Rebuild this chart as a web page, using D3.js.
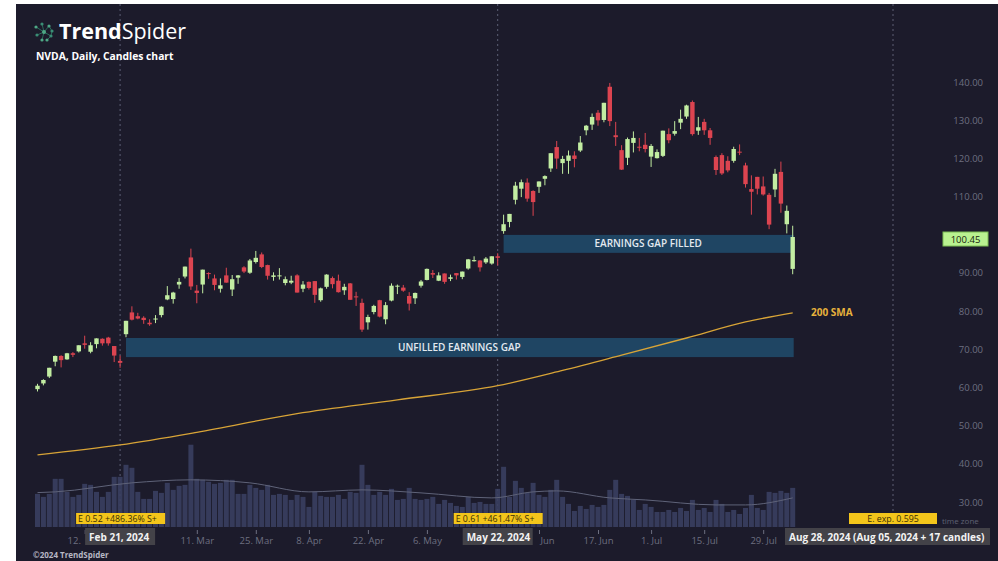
<!DOCTYPE html>
<html lang="en">
<head>
<meta charset="utf-8">
<title>NVDA, Daily, Candles chart</title>
<script src="https://d3js.org/d3.v7.min.js"></script>
<style>
  body { margin: 0; background: #ffffff; }
  text { font-family: "Open Sans", "Noto Sans", sans-serif; }
</style>
</head>
<body>
<script>
// daily candles: date, open, high, low, close (split adjusted)
var candles = [
  ["2024-01-31", 60.6, 62.0, 60.0, 61.5],
  ["2024-02-01", 62.1, 63.2, 61.6, 63.0],
  ["2024-02-02", 63.9, 66.2, 63.5, 66.2],
  ["2024-02-05", 67.8, 69.4, 66.6, 69.3],
  ["2024-02-06", 69.3, 69.5, 66.3, 68.2],
  ["2024-02-07", 68.4, 70.1, 68.3, 70.0],
  ["2024-02-08", 70.0, 70.3, 69.0, 69.6],
  ["2024-02-09", 70.5, 72.1, 70.2, 72.1],
  ["2024-02-12", 72.6, 74.6, 71.2, 72.2],
  ["2024-02-13", 70.4, 72.9, 70.0, 72.1],
  ["2024-02-14", 72.4, 73.9, 71.3, 73.9],
  ["2024-02-15", 73.8, 73.9, 72.0, 72.6],
  ["2024-02-16", 74.1, 74.3, 72.0, 72.6],
  ["2024-02-20", 71.9, 71.9, 67.7, 69.4],
  ["2024-02-21", 68.0, 69.4, 66.2, 67.5],
  ["2024-02-22", 75.0, 78.5, 74.2, 78.5],
  ["2024-02-23", 80.7, 82.3, 78.6, 78.8],
  ["2024-02-26", 79.7, 80.6, 78.9, 79.1],
  ["2024-02-27", 79.3, 79.7, 77.7, 78.7],
  ["2024-02-28", 78.0, 78.9, 77.2, 77.6],
  ["2024-02-29", 79.0, 80.0, 77.9, 79.1],
  ["2024-03-01", 80.0, 82.3, 79.4, 82.2],
  ["2024-03-04", 84.1, 87.6, 83.9, 85.2],
  ["2024-03-05", 84.2, 86.1, 83.0, 85.9],
  ["2024-03-06", 88.0, 89.7, 86.9, 88.7],
  ["2024-03-07", 90.1, 92.7, 89.6, 92.7],
  ["2024-03-08", 95.1, 97.4, 86.6, 87.5],
  ["2024-03-11", 86.4, 87.9, 83.1, 85.8],
  ["2024-03-12", 88.0, 91.9, 85.7, 91.9],
  ["2024-03-13", 91.0, 91.2, 89.5, 90.9],
  ["2024-03-14", 89.6, 90.6, 86.5, 87.9],
  ["2024-03-15", 86.9, 89.6, 85.9, 87.8],
  ["2024-03-18", 90.4, 92.4, 88.5, 88.5],
  ["2024-03-19", 86.7, 90.5, 85.0, 89.4],
  ["2024-03-20", 89.8, 90.5, 88.2, 90.4],
  ["2024-03-21", 92.5, 92.8, 91.0, 91.4],
  ["2024-03-22", 91.1, 94.7, 90.8, 94.3],
  ["2024-03-25", 93.9, 96.8, 93.5, 95.0],
  ["2024-03-26", 95.9, 96.4, 92.3, 92.6],
  ["2024-03-27", 93.1, 93.2, 89.3, 90.3],
  ["2024-03-28", 90.0, 91.2, 89.0, 90.4],
  ["2024-04-01", 90.3, 92.3, 89.3, 90.4],
  ["2024-04-02", 88.4, 90.1, 87.8, 89.4],
  ["2024-04-03", 88.5, 90.3, 88.1, 89.0],
  ["2024-04-04", 90.4, 90.7, 85.9, 85.9],
  ["2024-04-05", 86.9, 88.9, 86.0, 88.0],
  ["2024-04-08", 88.7, 88.8, 86.7, 87.1],
  ["2024-04-09", 88.9, 88.9, 83.2, 85.3],
  ["2024-04-10", 83.9, 87.2, 83.5, 87.0],
  ["2024-04-11", 87.4, 90.7, 86.9, 90.6],
  ["2024-04-12", 89.7, 90.1, 87.0, 88.1],
  ["2024-04-15", 89.0, 90.6, 85.9, 86.0],
  ["2024-04-16", 86.5, 88.2, 85.3, 87.4],
  ["2024-04-17", 88.3, 88.4, 84.0, 84.0],
  ["2024-04-18", 84.9, 86.1, 82.4, 84.7],
  ["2024-04-19", 83.2, 84.3, 75.6, 76.2],
  ["2024-04-22", 78.1, 80.1, 76.2, 79.5],
  ["2024-04-23", 80.8, 82.7, 80.2, 82.4],
  ["2024-04-24", 83.9, 84.0, 79.4, 79.6],
  ["2024-04-25", 78.9, 83.4, 77.6, 82.6],
  ["2024-04-26", 83.8, 88.3, 83.6, 87.7],
  ["2024-04-29", 87.5, 88.0, 85.5, 87.7],
  ["2024-04-30", 87.2, 87.9, 86.1, 86.4],
  ["2024-05-01", 85.0, 86.0, 81.2, 83.0],
  ["2024-05-02", 84.4, 85.9, 82.9, 85.8],
  ["2024-05-03", 87.7, 89.2, 87.2, 88.8],
  ["2024-05-06", 89.2, 92.2, 89.1, 92.1],
  ["2024-05-07", 91.0, 91.8, 89.7, 90.6],
  ["2024-05-08", 89.0, 91.2, 88.9, 90.4],
  ["2024-05-09", 90.9, 90.9, 88.2, 88.7],
  ["2024-05-10", 89.5, 90.6, 88.9, 89.9],
  ["2024-05-13", 91.0, 91.0, 89.3, 90.4],
  ["2024-05-14", 90.0, 91.4, 89.4, 91.4],
  ["2024-05-15", 92.2, 94.7, 91.9, 94.6],
  ["2024-05-16", 94.1, 95.4, 94.0, 94.4],
  ["2024-05-17", 94.3, 94.4, 91.4, 92.5],
  ["2024-05-20", 93.8, 95.2, 93.4, 94.8],
  ["2024-05-21", 93.5, 95.4, 93.2, 95.4],
  ["2024-05-22", 95.4, 96.2, 93.0, 95.0],
  ["2024-05-23", 102.0, 106.3, 101.3, 103.8],
  ["2024-05-24", 104.4, 106.5, 103.0, 106.5],
  ["2024-05-28", 110.2, 114.9, 109.0, 113.9],
  ["2024-05-29", 113.1, 115.5, 110.9, 114.8],
  ["2024-05-30", 114.7, 115.8, 109.7, 110.5],
  ["2024-05-31", 112.5, 112.7, 106.0, 109.6],
  ["2024-06-03", 113.6, 115.0, 112.0, 115.0],
  ["2024-06-04", 115.7, 116.6, 114.0, 116.4],
  ["2024-06-05", 118.4, 122.4, 117.5, 122.4],
  ["2024-06-06", 124.0, 125.6, 118.3, 121.0],
  ["2024-06-07", 119.8, 121.7, 117.0, 120.9],
  ["2024-06-10", 120.4, 123.1, 117.0, 121.8],
  ["2024-06-11", 121.8, 122.9, 118.7, 120.9],
  ["2024-06-12", 123.1, 126.9, 122.7, 125.2],
  ["2024-06-13", 128.4, 129.8, 127.1, 129.6],
  ["2024-06-14", 129.9, 132.8, 128.5, 131.9],
  ["2024-06-17", 133.0, 133.7, 129.6, 131.0],
  ["2024-06-18", 131.1, 135.6, 130.5, 135.6],
  ["2024-06-20", 139.8, 140.8, 129.5, 130.8],
  ["2024-06-21", 127.1, 130.6, 124.3, 126.6],
  ["2024-06-24", 123.2, 124.5, 118.0, 118.1],
  ["2024-06-25", 121.2, 126.5, 119.3, 126.1],
  ["2024-06-26", 125.1, 128.1, 122.6, 126.4],
  ["2024-06-27", 124.1, 126.4, 122.9, 124.0],
  ["2024-06-28", 124.6, 127.7, 122.6, 123.5],
  ["2024-07-01", 121.5, 124.8, 118.8, 124.3],
  ["2024-07-02", 121.1, 123.4, 121.0, 122.7],
  ["2024-07-03", 121.7, 128.3, 121.4, 128.3],
  ["2024-07-05", 127.4, 128.9, 125.0, 125.8],
  ["2024-07-08", 127.5, 130.8, 127.0, 128.2],
  ["2024-07-09", 130.4, 133.8, 128.7, 131.4],
  ["2024-07-10", 132.0, 135.1, 131.4, 134.9],
  ["2024-07-11", 135.8, 136.2, 127.0, 127.4],
  ["2024-07-12", 128.3, 131.9, 127.2, 129.2],
  ["2024-07-15", 130.6, 131.4, 127.2, 128.4],
  ["2024-07-16", 128.4, 129.0, 124.6, 126.4],
  ["2024-07-17", 121.4, 121.8, 116.7, 118.0],
  ["2024-07-18", 121.9, 122.4, 116.7, 117.1],
  ["2024-07-19", 120.4, 121.6, 117.4, 117.9],
  ["2024-07-22", 120.4, 124.1, 119.9, 123.5],
  ["2024-07-23", 122.8, 124.7, 121.9, 122.6],
  ["2024-07-24", 119.2, 119.9, 113.4, 114.3],
  ["2024-07-25", 113.0, 116.6, 106.3, 112.3],
  ["2024-07-26", 116.2, 116.2, 111.6, 113.1],
  ["2024-07-29", 113.7, 116.3, 111.3, 111.6],
  ["2024-07-30", 111.5, 112.0, 102.5, 103.7],
  ["2024-07-31", 112.9, 118.3, 110.9, 117.0],
  ["2024-08-01", 117.5, 120.2, 106.8, 109.2],
  ["2024-08-02", 103.8, 108.7, 101.4, 107.3],
  ["2024-08-05", 92.1, 103.4, 90.7, 100.45]
];

// daily volume, millions of shares (same order as candles)
var volumes = [
  462, 420, 462, 672, 672, 490, 420, 448, 602, 588, 490, 420, 490, 700, 700,
  868, 826, 490, 392, 392, 504, 476, 616, 518, 574, 588, 1148, 672, 658, 630,
  602, 616, 658, 658, 462, 462, 588, 546, 518, 588, 448, 462, 448, 378, 448,
  420, 280, 490, 434, 420, 420, 448, 392, 490, 476, 868, 588, 448, 490, 448,
  532, 378, 392, 546, 392, 378, 392, 420, 322, 378, 336, 294, 280, 420, 336,
  350, 322, 322, 532,
  840, 420, 644, 546, 476, 616, 448, 420, 518, 658, 420, 322, 224, 294, 252,
  308, 280, 308, 518, 658, 462, 434, 378, 238, 322, 280, 210, 210, 238, 210,
  266, 224, 378, 238, 266, 210, 378, 322, 210, 238, 182, 266, 448, 266, 238,
  490, 476, 504, 476, 546
];

// 200 day SMA, read at some candles: [candle index, value]
var sma200 = [
  [0, 43.4], [14, 46.0], [27, 49.3], [44, 54.2], [61, 57.8], [78, 61.5],
  [89, 65.5], [99, 69.5], [110, 74.0], [120, 78.2], [128, 80.6]
];

// volume moving average, read at some candles: [candle index, millions]
var volMa = [
  [0, 480], [3, 490], [16, 616], [26, 658], [36, 616], [46, 490], [55, 518],
  [65, 476], [77, 406], [84, 490], [88, 504], [97, 406], [103, 378],
  [115, 308], [120, 308], [128, 406]
];

var priceTicks = [30, 40, 50, 60, 70, 80, 90, 110, 120, 130, 140];
var lastPrice = 100.45;

// date ticks: date, label, label shift (labels partly hidden by the tooltips)
var dateTicks = [
  ["2024-02-12", "12.", -11], ["2024-03-11", "11. Mar", 0],
  ["2024-03-25", "25. Mar", 0], ["2024-04-08", "8. Apr", 0],
  ["2024-04-22", "22. Apr", 0], ["2024-05-06", "6. May", 0],
  ["2024-06-03", "Jun", 8], ["2024-06-17", "17. Jun", 0],
  ["2024-07-01", "1. Jul", 0], ["2024-07-15", "15. Jul", 0],
  ["2024-07-29", "29. Jul", 0]
];

// earnings gaps: from date, to date, low, high, label
var gaps = [
  ["2024-02-22", "2024-08-05", 69.0, 74.0, "UNFILLED EARNINGS GAP"],
  ["2024-05-23", "2024-08-05", 96.3, 101.0, "EARNINGS GAP FILLED"]
];

var earnings = [
  ["2024-02-21", "E 0.52 +486.36% S+", "Feb 21, 2024"],
  ["2024-05-22", "E 0.61 +461.47% S+", "May 22, 2024"]
];
var futureCandles = 17;
var nextEarningsText = "E. exp. 0.595";
var nextEarningsTip = "Aug 28, 2024 (Aug 05, 2024 + 17 candles)";

// ---------------------------------------------------------------
var W = 998, H = 561;
var bg = "#1c1b2b";
var green = "#c2eda2", red = "#dc4450";

var idx = {};
candles.forEach(function(d, i){ idx[d[0]] = i; });

var x = d3.scaleLinear()
    .domain([0, candles.length - 1 + futureCandles])
    .range([37.5, 893]);

var y = d3.scaleLinear().domain([30, 140]).range([506, 86]);
var yv = d3.scaleLinear().domain([0, 1200]).range([527, 441]);

var svg = d3.select("body").append("svg")
    .attr("width", W)
    .attr("height", H);

var defs = svg.append("defs");
defs.append("clipPath").attr("id", "tipclip")
  .append("rect").attr("x", 785).attr("y", 528).attr("width", 205).attr("height", 17);

svg.append("rect")
    .attr("x", 16).attr("y", 4)
    .attr("width", W - 16).attr("height", H - 4)
    .attr("fill", bg);

// dotted earnings lines
var lineIdx = earnings.map(function(e){ return idx[e[0]]; });
lineIdx.push(candles.length - 1 + futureCandles);
svg.selectAll("line.earn")
    .data(lineIdx)
    .enter().append("line")
    .attr("class", "earn")
    .attr("x1", function(d){ return x(d); })
    .attr("x2", function(d){ return x(d); })
    .attr("y1", 4)
    .attr("y2", function(d, i){ return i == 2 ? 512 : 530; })
    .attr("stroke", "#5c5f74")
    .attr("stroke-width", 1)
    .attr("stroke-dasharray", "2,3");

// gap boxes
svg.selectAll("rect.gap")
    .data(gaps)
    .enter().append("rect")
    .attr("class", "gap")
    .attr("x", function(d){ return x(idx[d[0]]); })
    .attr("y", function(d){ return y(d[3]); })
    .attr("width", function(d){ return x(idx[d[1]]) - x(idx[d[0]]) + 1; })
    .attr("height", function(d){ return y(d[2]) - y(d[3]); })
    .attr("fill", "#1f4563");

// 200 SMA
var smaLine = d3.line()
    .x(function(d){ return x(d[0]); })
    .y(function(d){ return y(d[1]); })
    .curve(d3.curveMonotoneX);
svg.append("path")
    .datum(sma200)
    .attr("d", smaLine)
    .attr("fill", "none")
    .attr("stroke", "#d8a437")
    .attr("stroke-width", 1.3);

svg.append("text")
    .attr("x", 811).attr("y", y(sma200[sma200.length - 1][1]) + 3)
    .attr("fill", "#e6b23c")
    .attr("font-size", "10px")
    .attr("font-weight", "bold")
    .text("200 SMA");

// volume
svg.selectAll("rect.vol")
    .data(volumes)
    .enter().append("rect")
    .attr("class", "vol")
    .attr("x", function(d, i){ return x(i) - 2.5; })
    .attr("y", function(d){ return yv(d); })
    .attr("width", 5)
    .attr("height", function(d){ return yv(0) - yv(d); })
    .attr("fill", "#3a3f60")
    .attr("fill-opacity", 0.9);

var volLine = d3.line()
    .x(function(d){ return x(d[0]); })
    .y(function(d){ return yv(d[1]); })
    .curve(d3.curveMonotoneX);
svg.append("path")
    .datum(volMa)
    .attr("d", volLine)
    .attr("fill", "none")
    .attr("stroke", "#5f6379")
    .attr("stroke-width", 1);

// candles
var c = svg.selectAll("g.candle")
    .data(candles)
    .enter().append("g")
    .attr("class", "candle");

c.append("line")
    .attr("x1", function(d, i){ return x(i); })
    .attr("x2", function(d, i){ return x(i); })
    .attr("y1", function(d){ return y(d[2]); })
    .attr("y2", function(d){ return y(d[3]); })
    .attr("stroke", function(d){ return d[4] >= d[1] ? green : red; })
    .attr("stroke-width", 1);

c.append("rect")
    .attr("x", function(d, i){ return x(i) - 2.2; })
    .attr("y", function(d){ return y(Math.max(d[1], d[4])); })
    .attr("width", 4.4)
    .attr("height", function(d){ return Math.max(1, Math.abs(y(d[1]) - y(d[4]))); })
    .attr("fill", function(d){ return d[4] >= d[1] ? green : red; });

// gap labels
svg.selectAll("text.gap")
    .data(gaps)
    .enter().append("text")
    .attr("class", "gap")
    .attr("x", function(d){ return (x(idx[d[0]]) + x(idx[d[1]])) / 2; })
    .attr("y", function(d){ return y((d[2] + d[3]) / 2) + 3.5; })
    .attr("text-anchor", "middle")
    .attr("fill", "#e3e9f0")
    .attr("font-size", "10px")
    .attr("font-weight", 600)
    .text(function(d){ return d[4]; });

// price axis
var yAxis = d3.axisLeft(y)
    .tickValues(priceTicks)
    .tickSize(0)
    .tickPadding(0)
    .tickFormat(d3.format(".2f"));
var ya = svg.append("g")
    .attr("transform", "translate(983,-4)")
    .call(yAxis);
ya.select(".domain").remove();
ya.selectAll("text")
    .attr("fill", "#6d6f80")
    .attr("font-size", "9.5px")
    .attr("font-family", "'Open Sans', sans-serif");

// last price tag
svg.append("rect")
    .attr("x", 943).attr("y", y(lastPrice) - 5)
    .attr("width", 45).attr("height", 14)
    .attr("fill", "#b9f290")
    .attr("stroke", "#7cbf55");
svg.append("text")
    .attr("x", 965.5).attr("y", y(lastPrice) + 5.5)
    .attr("text-anchor", "middle")
    .attr("fill", "#18240f")
    .attr("font-size", "9.5px")
    .text(d3.format(".2f")(lastPrice));

// date axis
var tickMap = {}, shiftMap = {};
dateTicks.forEach(function(t){ tickMap[idx[t[0]]] = t[1]; shiftMap[idx[t[0]]] = t[2]; });
var xAxis = d3.axisBottom(x)
    .tickValues(dateTicks.map(function(t){ return idx[t[0]]; }))
    .tickSize(4)
    .tickPadding(3)
    .tickFormat(function(d){ return tickMap[d]; });
var xa = svg.append("g")
    .attr("transform", "translate(0,530)")
    .call(xAxis);
xa.select(".domain").remove();
xa.selectAll("line").attr("stroke", "#6d6f80");
xa.selectAll("text")
    .attr("dx", function(d){ return shiftMap[d]; })
    .attr("fill", "#6d6f80")
    .attr("font-size", "9.5px")
    .attr("font-family", "'Open Sans', sans-serif");

// earnings markers
function yellowTag(cx, text, w, anchor) {
  svg.append("rect")
      .attr("x", anchor == "middle" ? cx - w / 2 : cx).attr("y", 513)
      .attr("width", w).attr("height", 11)
      .attr("fill", "#f3c51b");
  svg.append("text")
      .attr("x", anchor == "middle" ? cx : cx + 2).attr("y", 521.8)
      .attr("text-anchor", anchor)
      .attr("fill", "#3b2f05")
      .attr("font-size", "8.8px")
      .text(text);
}
function darkTip(x0, text, w, clip) {
  svg.append("rect")
      .attr("x", x0).attr("y", 528)
      .attr("width", w).attr("height", 17)
      .attr("fill", "#434248");
  var t = svg.append("text")
      .attr("x", x0 + 4).attr("y", 540.5)
      .attr("fill", "#f2f2f2")
      .attr("font-size", "10px")
      .attr("font-weight", "bold")
      .text(text);
  if (clip) t.attr("clip-path", "url(#tipclip)");
}
earnings.forEach(function(e){
  var xi = x(idx[e[0]]);
  yellowTag(xi - 44, e[1], 89, "start");
  darkTip(xi - 35, e[2], 70, false);
});
var xf = x(candles.length - 1 + futureCandles);
yellowTag(xf, nextEarningsText, 88, "middle");
svg.append("text")
    .attr("x", 942).attr("y", 524)
    .attr("fill", "#5f6173")
    .attr("font-size", "8px")
    .text("time zone");
darkTip(785, nextEarningsTip, 205, true);

// header
var logo = svg.append("g").attr("transform", "translate(44,32)");
var nodes = [[-8,-5],[-2,-8],[5,-6],[-7,3],[0,0],[7,4],[-2,8],[8,-1],[3,8]];
var links = [[0,4],[1,4],[2,4],[3,4],[4,5],[4,6],[2,7],[7,5],[5,8]];
logo.selectAll("line")
    .data(links)
    .enter().append("line")
    .attr("x1", function(d){ return nodes[d[0]][0]; })
    .attr("y1", function(d){ return nodes[d[0]][1]; })
    .attr("x2", function(d){ return nodes[d[1]][0]; })
    .attr("y2", function(d){ return nodes[d[1]][1]; })
    .attr("stroke", "#2a6a5a")
    .attr("stroke-width", 1);
logo.selectAll("circle")
    .data(nodes)
    .enter().append("circle")
    .attr("cx", function(d){ return d[0]; })
    .attr("cy", function(d){ return d[1]; })
    .attr("r", function(d, i){ return i == 4 ? 2 : 1.6; })
    .attr("fill", function(d, i){ return i % 2 ? "#3a8d75" : "#4ea886"; });

var title = svg.append("text")
    .attr("x", 59).attr("y", 39)
    .attr("fill", "#ffffff")
    .attr("font-size", "21.5px");
title.append("tspan").attr("font-weight", "bold").text("Trend");
title.append("tspan").attr("font-weight", "normal").text("Spider");

svg.append("text")
    .attr("x", 36).attr("y", 60)
    .attr("fill", "#ffffff")
    .attr("font-size", "10.3px")
    .attr("font-weight", "bold")
    .text("NVDA, Daily, Candles chart");

svg.append("text")
    .attr("x", 33).attr("y", 558)
    .attr("fill", "#b8b8c4")
    .attr("font-size", "8px")
    .attr("font-weight", "bold")
    .text("\u00a92024 TrendSpider");
</script>
</body>
</html>
